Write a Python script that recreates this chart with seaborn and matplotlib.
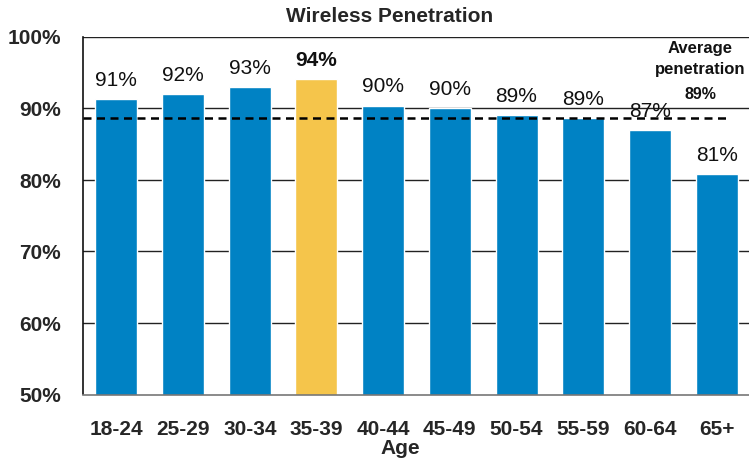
import matplotlib
matplotlib.use("Agg")
import matplotlib.pyplot as plt
import seaborn as sns
import pandas as pd

# Share of each age group with wireless service (%)
age_groups = ["18-24", "25-29", "30-34", "35-39", "40-44",
              "45-49", "50-54", "55-59", "60-64", "65+"]
penetration = [91.3, 92.0, 93.0, 94.1, 90.4, 90.0, 89.1, 88.7, 87.0, 80.8]
average_penetration = 88.7
highlight_group = "35-39"
y_ticks = [50, 60, 70, 80, 90, 100]

BLUE = "#0082C4"
YELLOW = "#F5C54B"

sns.set_theme(style="white")
plt.rcParams["font.family"] = ["Liberation Sans", "DejaVu Sans"]

df = pd.DataFrame({"age": age_groups, "pen": penetration})
palette = {a: (YELLOW if a == highlight_group else BLUE) for a in age_groups}

fig = plt.figure(figsize=(7.49, 4.61), dpi=100)
ax = fig.add_axes([83 / 749, 66.5 / 461, 667 / 749, 357.5 / 461])

sns.barplot(data=df, x="age", y="pen", hue="age", palette=palette,
            dodge=False, legend=False, width=0.63, saturation=1, ax=ax)

ax.set_ylim(50, 100)
ax.set_xlim(-0.5, len(age_groups) - 0.5)
ax.set_yticks(y_ticks)
ax.set_yticklabels([f"{t}%" for t in y_ticks], fontsize=15, fontweight="bold")
ax.set_xticks(range(len(age_groups)))
ax.set_xticklabels(age_groups, fontsize=15, fontweight="bold")
ax.tick_params(axis="both", length=0)
ax.tick_params(axis="y", pad=16)
ax.tick_params(axis="x", pad=18)
ax.set_xlabel("")
ax.set_ylabel("")

# horizontal gridlines behind the bars
for t in y_ticks[1:]:
    ax.axhline(t, color="#222222", lw=1.0, zorder=0)
ax.set_axisbelow(True)

for side in ["top", "right"]:
    ax.spines[side].set_visible(False)
ax.spines["left"].set_color("#111111")
ax.spines["left"].set_linewidth(1.2)
ax.spines["bottom"].set_color("#777777")
ax.spines["bottom"].set_linewidth(1.2)

# value labels
for i, (a, v) in enumerate(zip(age_groups, penetration)):
    bold = a == highlight_group
    ax.annotate(f"{round(v)}%", (i, v), xytext=(0, 13.5), textcoords="offset points",
                ha="center", va="center", fontsize=15,
                fontweight="bold" if bold else "normal", color="#111111")

# average line
ax.plot([-0.5, 9.17], [average_penetration, average_penetration],
        ls=(0, (3.2, 2.2)), color="black", lw=1.8, zorder=3)
ax.text(8.75, 98.45, "Average", ha="center", va="center",
        fontsize=12, fontweight="bold", color="#111111")
ax.text(8.75, 95.4, "penetration", ha="center", va="center",
        fontsize=12, fontweight="bold", color="#111111")
ax.text(8.75, 91.9, f"{round(average_penetration)}%", ha="center", va="center",
        fontsize=11.5, fontweight="bold", color="#111111")

fig.text(390 / 749, 1 - 16 / 461, "Wireless Penetration", ha="center",
         va="center", fontsize=15, fontweight="bold")
fig.text(400 / 749, 1 - 448 / 461, "Age", ha="center", va="center",
         fontsize=15, fontweight="bold")

fig.savefig("out.png", dpi=100)
